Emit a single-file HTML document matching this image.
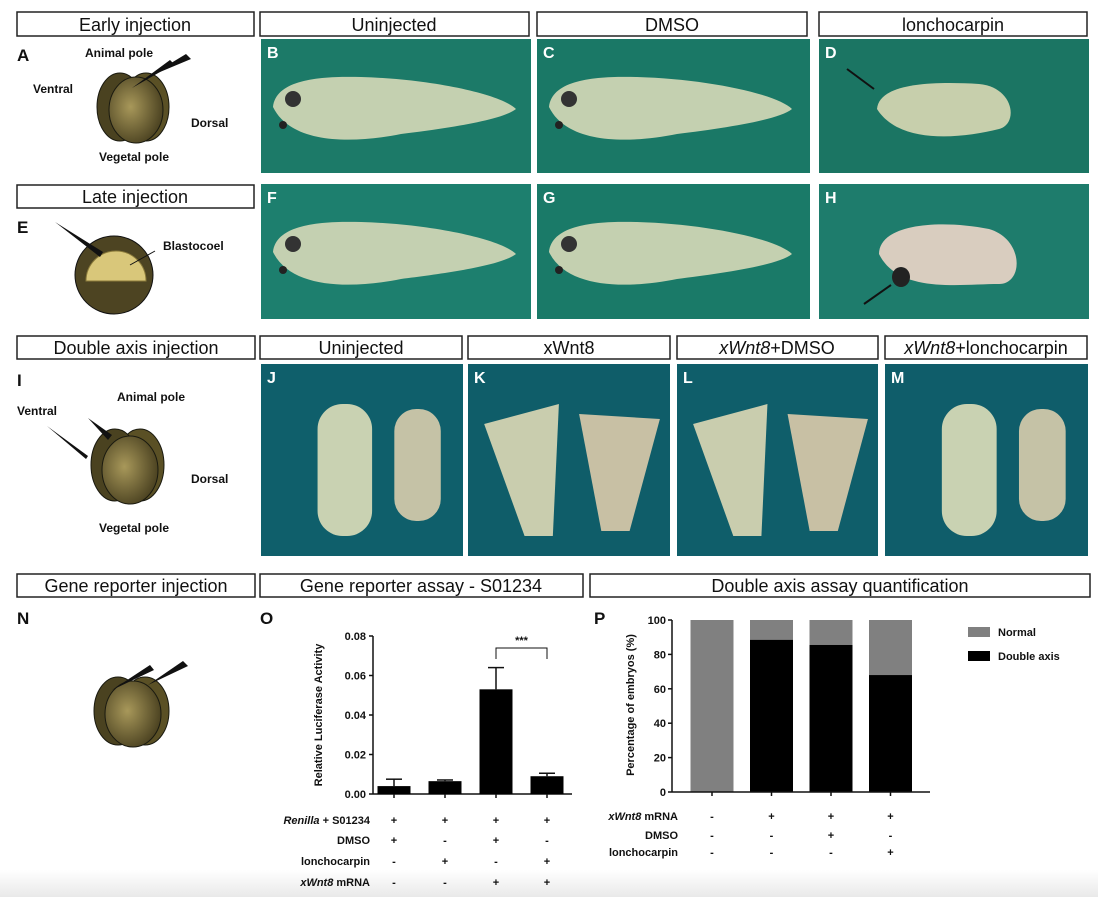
<!DOCTYPE html>
<html><head><meta charset="utf-8"><style>
html,body{margin:0;padding:0;background:#fff;}
svg{display:block;}
.box{fill:#fff;stroke:#222;stroke-width:1.5;}
.bt{font-family:"Liberation Sans",sans-serif;font-size:18px;fill:#111;text-anchor:middle;}
.lb{font-family:"Liberation Sans",sans-serif;font-weight:bold;font-size:12px;fill:#111;}
.pl{font-family:"Liberation Sans",sans-serif;font-weight:bold;font-size:16px;fill:#fff;}
.bl{font-family:"Liberation Sans",sans-serif;font-weight:bold;font-size:17px;fill:#111;}
.ax{font-family:"Liberation Sans",sans-serif;font-weight:bold;font-size:11px;fill:#111;}
</style></head><body>
<svg id="fig" width="1098" height="897" viewBox="0 0 1098 897">
<defs>
<radialGradient id="egg" cx="0.4" cy="0.45" r="0.7"><stop offset="0" stop-color="#a8985a"/><stop offset="1" stop-color="#3d3518"/></radialGradient>
<linearGradient id="bot" x1="0" y1="0" x2="0" y2="1"><stop offset="0" stop-color="#fff"/><stop offset="1" stop-color="#e9e9e9"/></linearGradient>
</defs>
<rect x="0" y="870" width="1098" height="27" fill="url(#bot)"/>
<!-- title boxes -->
<g><rect class="box" x="17" y="12" width="237" height="24"/><text class="bt" x="135" y="31">Early injection</text></g>
<g><rect class="box" x="260" y="12" width="269" height="24"/><text class="bt" x="394" y="31">Uninjected</text></g>
<g><rect class="box" x="537" y="12" width="270" height="24"/><text class="bt" x="672" y="31">DMSO</text></g>
<g><rect class="box" x="819" y="12" width="268" height="24"/><text class="bt" x="953" y="31">lonchocarpin</text></g>
<g><rect class="box" x="17" y="185" width="237" height="23"/><text class="bt" x="135" y="203">Late injection</text></g>
<g><rect class="box" x="17" y="336" width="238" height="23"/><text class="bt" x="136" y="354">Double axis injection</text></g>
<g><rect class="box" x="260" y="336" width="202" height="23"/><text class="bt" x="361" y="354">Uninjected</text></g>
<g><rect class="box" x="468" y="336" width="202" height="23"/><text class="bt" x="569" y="354">xWnt8</text></g>
<g><rect class="box" x="677" y="336" width="201" height="23"/><text class="bt" x="777" y="354"><tspan font-style="italic">xWnt8</tspan>+DMSO</text></g>
<g><rect class="box" x="885" y="336" width="202" height="23"/><text class="bt" x="986" y="354" font-size="17"><tspan font-style="italic">xWnt8</tspan>+lonchocarpin</text></g>
<g><rect class="box" x="17" y="574" width="238" height="23"/><text class="bt" x="136" y="592">Gene reporter injection</text></g>
<g><rect class="box" x="260" y="574" width="323" height="23"/><text class="bt" x="421" y="592">Gene reporter assay - S01234</text></g>
<g><rect class="box" x="590" y="574" width="500" height="23"/><text class="bt" x="840" y="592">Double axis assay quantification</text></g>

<!-- panel A -->
<g>
<text class="bl" x="17" y="61">A</text>
<ellipse cx="146" cy="107" rx="23" ry="34" fill="#5a5025" stroke="#1a1a10"/>
<ellipse cx="120" cy="107" rx="23" ry="34" fill="#4a4220" stroke="#1a1a10"/>
<ellipse cx="136" cy="110" rx="27" ry="33" fill="url(#egg)" stroke="#1a1a10"/>
<polygon points="132,88 170,60 174,64" fill="#111"/><polygon points="148,77 186,54 191,59" fill="#111"/>
<text class="lb" x="119" y="57" text-anchor="middle">Animal pole</text>
<text class="lb" x="33" y="93">Ventral</text>
<text class="lb" x="191" y="127">Dorsal</text>
<text class="lb" x="134" y="161" text-anchor="middle">Vegetal pole</text>
</g>
<!-- panel E -->
<g>
<text class="bl" x="17" y="233">E</text>
<circle cx="114" cy="275" r="39" fill="#4d4422" stroke="#111"/>
<path d="M86,281 A30,30 0 0 1 146,281 Z" fill="#d9c77a" stroke="#8a7a3a"/>
<polygon points="55,222 103,252 100,257" fill="#111"/>
<line x1="130" y1="265" x2="155" y2="251" stroke="#111"/>
<text class="lb" x="163" y="250">Blastocoel</text>
</g>
<!-- panel I -->
<g>
<text class="bl" x="17" y="386">I</text>
<ellipse cx="140" cy="465" rx="24" ry="36" fill="#5a5025" stroke="#1a1a10"/>
<ellipse cx="115" cy="465" rx="24" ry="36" fill="#4a4220" stroke="#1a1a10"/>
<ellipse cx="130" cy="470" rx="28" ry="34" fill="url(#egg)" stroke="#1a1a10"/>
<polygon points="88,418 112,435 108,440" fill="#111"/><polygon points="47,426 88,456 86,459" fill="#111"/>
<text class="lb" x="151" y="401" text-anchor="middle">Animal pole</text>
<text class="lb" x="17" y="415">Ventral</text>
<text class="lb" x="191" y="483">Dorsal</text>
<text class="lb" x="134" y="532" text-anchor="middle">Vegetal pole</text>
</g>
<!-- panel N -->
<g>
<text class="bl" x="17" y="624">N</text>
<ellipse cx="145" cy="711" rx="24" ry="34" fill="#5a5025" stroke="#1a1a10"/>
<ellipse cx="118" cy="711" rx="24" ry="34" fill="#4a4220" stroke="#1a1a10"/>
<ellipse cx="133" cy="714" rx="28" ry="33" fill="url(#egg)" stroke="#1a1a10"/>
<polygon points="112,690 150,665 154,670" fill="#111"/><polygon points="148,685 183,661 188,666" fill="#111"/>
</g>

<g id="photos"></g>

<text class="bl" x="260" y="624">O</text>
<text class="bl" x="594" y="624">P</text>
<g id="chartO"></g>
<g id="chartP"></g>
</svg>
<script>
var NS="http://www.w3.org/2000/svg";
function mk(parent,tag,attrs,txt){var e=document.createElementNS(NS,tag);for(var k in attrs)e.setAttribute(k,attrs[k]);if(txt!==undefined)e.textContent=txt;parent.appendChild(e);return e;}

// ---- photos ----
var ph=document.getElementById('photos');
var photoDefs=[
 ['B',261,39,270,134,'#1c7a68','tad'],['C',537,39,273,134,'#1a7866','tad'],['D',819,39,270,134,'#1b7563','short'],
 ['F',261,184,270,135,'#1d7f6e','tad2'],['G',537,184,273,135,'#1a7a68','tad2'],['H',819,184,270,135,'#1e7c6c','blob'],
 ['J',261,364,202,192,'#0f5f6b','axis'],['K',468,364,202,192,'#0f5d69','dbl'],['L',677,364,201,192,'#0f5e6a','dbl'],['M',885,364,203,192,'#0f5d6a','axis']
];
photoDefs.forEach(function(p){
  var g=mk(ph,'g',{});
  
  
  var x=p[1],y=p[2],w=p[3],h=p[4];
  mk(g,'rect',{x:x,y:y,width:w,height:h,fill:p[5]});
  var body=p[7]==='tad2'?'#d8c9b4':'#cdd5b4';
  if(p[6]==='tad'||p[6]==='tad2'){
    mk(g,'path',{d:'M'+(x+12)+','+(y+68)+' C'+(x+15)+','+(y+40)+' '+(x+60)+','+(y+37)+' '+(x+100)+','+(y+38)+' C'+(x+170)+','+(y+40)+' '+(x+240)+','+(y+55)+' '+(x+255)+','+(y+70)+' C'+(x+240)+','+(y+82)+' '+(x+180)+','+(y+90)+' '+(x+140)+','+(y+95)+' C'+(x+90)+','+(y+105)+' '+(x+30)+','+(y+105)+' '+(x+12)+','+(y+68)+' Z',fill:body,opacity:0.95});
    mk(g,'circle',{cx:x+32,cy:y+60,r:8,fill:'#333'});
    mk(g,'circle',{cx:x+22,cy:y+86,r:4,fill:'#222'});
  } else if(p[6]==='short'){
    mk(g,'path',{d:'M'+(x+58)+','+(y+70)+' C'+(x+60)+','+(y+45)+' '+(x+110)+','+(y+42)+' '+(x+160)+','+(y+45)+' C'+(x+195)+','+(y+48)+' '+(x+200)+','+(y+85)+' '+(x+180)+','+(y+90)+' C'+(x+140)+','+(y+100)+' '+(x+80)+','+(y+105)+' '+(x+58)+','+(y+70)+' Z',fill:'#c7cfac'});
    mk(g,'line',{x1:x+28,y1:y+30,x2:x+55,y2:y+50,stroke:'#111','stroke-width':2});
  } else if(p[6]==='blob'){
    mk(g,'path',{d:'M'+(x+60)+','+(y+70)+' C'+(x+60)+','+(y+40)+' '+(x+120)+','+(y+35)+' '+(x+170)+','+(y+45)+' C'+(x+205)+','+(y+55)+' '+(x+205)+','+(y+100)+' '+(x+180)+','+(y+100)+' C'+(x+140)+','+(y+100)+' '+(x+80)+','+(y+110)+' '+(x+60)+','+(y+70)+' Z',fill:'#d9cdbf'});
    mk(g,'ellipse',{cx:x+82,cy:y+93,rx:9,ry:10,fill:'#222'});
    mk(g,'line',{x1:x+45,y1:y+120,x2:x+72,y2:y+101,stroke:'#111','stroke-width':2});
  } else if(p[6]==='axis'){
    mk(g,'rect',{x:x+w*0.28,y:y+40,width:w*0.27,height:h-60,rx:25,fill:'#c9d2b2'});
    mk(g,'rect',{x:x+w*0.66,y:y+45,width:w*0.23,height:h-80,rx:22,fill:'#c5c2a6'});
  } else {
    mk(g,'path',{d:'M'+(x+w*0.08)+','+(y+60)+' L'+(x+w*0.45)+','+(y+40)+' L'+(x+w*0.42)+','+(y+h-20)+' L'+(x+w*0.28)+','+(y+h-20)+' Z',fill:'#c9cdae'});
    mk(g,'path',{d:'M'+(x+w*0.55)+','+(y+50)+' L'+(x+w*0.95)+','+(y+55)+' L'+(x+w*0.8)+','+(y+h-25)+' L'+(x+w*0.66)+','+(y+h-25)+' Z',fill:'#c8c0a4'});
  }
  mk(g,'text',{x:x+6,y:y+19,'class':'pl'},p[0]);
});

// ---- chart O data ----
var oCats=['c1','c2','c3','c4'];
var oMeans=[0.004,0.0065,0.053,0.009];
var oErrs=[0.0035,0.0006,0.011,0.0015];
var oTicks=[0,0.02,0.04,0.06,0.08];
var oTickLabels=['0.00','0.02','0.04','0.06','0.08'];
var oRowLabels=['Renilla','DMSO','lonchocarpin','xWnt8'];
var oRows=[['+','+','+','+'],['+','-','+','-'],['-','+','-','+'],['-','-','+','+']];

var O=document.getElementById('chartO');
var oX0=373,oX1=572,oYb=794,oYt=636;
function oy(v){return oYb-(v/0.08)*(oYb-oYt);}
function ox(i){return 394+i*51;}
mk(O,'line',{x1:oX0,y1:oYt,x2:oX0,y2:oYb,stroke:'#111','stroke-width':1.5});
mk(O,'line',{x1:oX0,y1:oYb,x2:oX1,y2:oYb,stroke:'#111','stroke-width':1.5});
oTicks.forEach(function(t,i){
  mk(O,'line',{x1:oX0-4,y1:oy(t),x2:oX0,y2:oy(t),stroke:'#111','stroke-width':1.5});
  var tl=mk(O,'text',{x:oX0-7,y:oy(t)+4,'class':'ax','text-anchor':'end'},oTickLabels[i]);
  
  
});
var yt=mk(O,'text',{x:0,y:0,'class':'ax',transform:'translate(322,715) rotate(-90)','text-anchor':'middle'},'Relative Luciferase Activity');


oCats.forEach(function(c,i){
  var cx=ox(i),bw=33;
  mk(O,'line',{x1:cx,y1:oYb,x2:cx,y2:oYb+4,stroke:'#111','stroke-width':1.5});
  var hi=oy(oMeans[i]+oErrs[i]);
  mk(O,'line',{x1:cx,y1:oy(oMeans[i]),x2:cx,y2:hi,stroke:'#111','stroke-width':1.5});
  mk(O,'line',{x1:cx-8,y1:hi,x2:cx+8,y2:hi,stroke:'#111','stroke-width':1.5});
  var b=mk(O,'rect',{x:cx-bw/2,y:oy(oMeans[i]),width:bw,height:oYb-oy(oMeans[i]),fill:'#000'});
  
  
});
mk(O,'path',{d:'M'+ox(2)+','+(oYt+23)+' V'+(oYt+12)+' H'+ox(3)+' V'+(oYt+23),fill:'none',stroke:'#111','stroke-width':1});
mk(O,'text',{x:(ox(2)+ox(3))/2,y:oYt+8,'class':'ax','text-anchor':'middle'},'***');
var oRowY=[820,840,861,882];
oRowLabels.forEach(function(l,r){
  var t=mk(O,'text',{x:370,y:oRowY[r]+4,'class':'ax','text-anchor':'end'});
  if(r===0){mk(t,'tspan',{'font-style':'italic'},'Renilla');mk(t,'tspan',{},' + S01234');}
  else if(r===3){mk(t,'tspan',{'font-style':'italic'},'xWnt8');mk(t,'tspan',{},' mRNA');}
  else t.textContent=l;
  
  
  oRows[r].forEach(function(s,i){mk(O,'text',{x:ox(i),y:oRowY[r]+4,'class':'ax','text-anchor':'middle'},s);});
});

// ---- chart P data ----
var pCats=['uninjected','xwnt8','xwnt8-dmso','xwnt8-lonchocarpin'];
var pDouble=[0,88.5,85.5,68];
var pTicks=[0,20,40,60,80,100];
var pRowLabels=['xWnt8 mRNA','DMSO','lonchocarpin'];
var pRows=[['-','+','+','+'],['-','-','+','-'],['-','-','-','+']];
var P=document.getElementById('chartP');
var pX0=672,pX1=930,pYb=792,pYt=620;
function py(v){return pYb-(v/100)*(pYb-pYt);}
function px(i){return 712+i*59.5;}
pCats.forEach(function(c,i){
  var cx=px(i),bw=43;
  var n=mk(P,'rect',{x:cx-bw/2,y:pYt,width:bw,height:py(pDouble[i])-pYt,fill:'#808080'});
  
  
  var d=mk(P,'rect',{x:cx-bw/2,y:py(pDouble[i]),width:bw,height:pYb-py(pDouble[i]),fill:'#000'});
  
  
  mk(P,'line',{x1:cx,y1:pYb,x2:cx,y2:pYb+4,stroke:'#111','stroke-width':1.5});
});
mk(P,'line',{x1:pX0,y1:pYt,x2:pX0,y2:pYb,stroke:'#111','stroke-width':1.5});
mk(P,'line',{x1:pX0,y1:pYb,x2:pX1,y2:pYb,stroke:'#111','stroke-width':1.5});
pTicks.forEach(function(t){
  mk(P,'line',{x1:pX0-4,y1:py(t),x2:pX0,y2:py(t),stroke:'#111','stroke-width':1.5});
  var tl=mk(P,'text',{x:pX0-6,y:py(t)+4,'class':'ax','text-anchor':'end'},String(t));
  
  
});
var pyt=mk(P,'text',{x:0,y:0,'class':'ax',transform:'translate(634,705) rotate(-90)','text-anchor':'middle','font-size':'12'},'Percentage of embryos (%)');


var pRowY=[816,835,852];
pRowLabels.forEach(function(l,r){
  var t=mk(P,'text',{x:678,y:pRowY[r]+4,'class':'ax','text-anchor':'end'});
  if(r===0){mk(t,'tspan',{'font-style':'italic'},'xWnt8');mk(t,'tspan',{},' mRNA');}
  else t.textContent=l;
  
  
  pRows[r].forEach(function(s,i){mk(P,'text',{x:px(i),y:pRowY[r]+4,'class':'ax','text-anchor':'middle'},s);});
});
var lg=mk(P,'g',{});


mk(lg,'rect',{x:968,y:627,width:22,height:10,fill:'#808080'});
mk(lg,'text',{x:998,y:636,'class':'ax','font-size':'12'},'Normal');
mk(lg,'rect',{x:968,y:651,width:22,height:10,fill:'#000'});
mk(lg,'text',{x:998,y:660,'class':'ax','font-size':'12'},'Double axis');
</script>
</body></html>
